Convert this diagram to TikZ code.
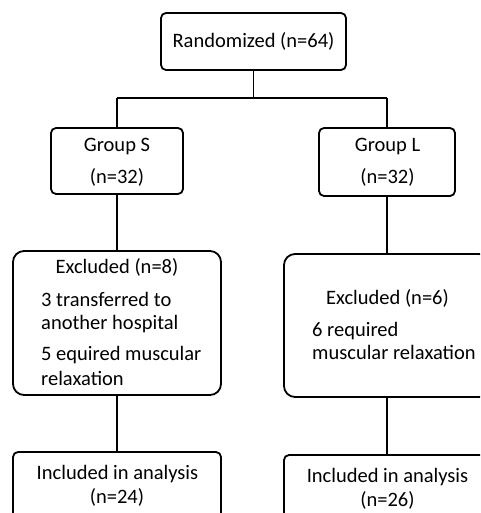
\documentclass[tikz,border=0pt]{standalone}
\usepackage{fontspec}
\setmainfont{Carlito}
\begin{document}
\begin{tikzpicture}[x=1pt,y=-1pt,
  box/.style={draw=black,line width=1.8pt,rounded corners=5pt,inner sep=0pt},
  bigbox/.style={draw=black,line width=1.8pt,rounded corners=11pt,inner sep=0pt},
  conn/.style={draw=black,line width=1.8pt},
  txt/.style={inner sep=0pt,font=\fontsize{20.5}{24}\selectfont},
  lefttxt/.style={txt,anchor=base west},
  ctxt/.style={txt,anchor=base}]
\useasboundingbox (0,0) rectangle (480,513);
\clip (0,0) rectangle (480,513);
% boxes
\node[box,minimum width=185pt,minimum height=57pt] (rand) at (253.5,41.5) {};
\node[box,minimum width=132pt,minimum height=66pt] (gs) at (117,161) {};
\node[box,minimum width=136pt,minimum height=68pt] (gl) at (387,162) {};
\node[bigbox,minimum width=208pt,minimum height=144pt] (es) at (117,323) {};
\node[bigbox,minimum width=206pt,minimum height=143pt] (el) at (387,325.5) {};
\node[box,minimum width=208pt,minimum height=80pt] (is) at (117,492) {};
\node[box,minimum width=206pt,minimum height=80pt] (il) at (387,495) {};
% connectors
\coordinate (j) at (253.5,98);
\coordinate (jl) at (117,98);
\coordinate (jr) at (387,98);
\draw[conn] (rand.south) -- (j);
\draw[conn] (jl) -- (jr);
\draw[conn] (jl) -- (gs.north);
\draw[conn] (jr) -- (gl.north);
\draw[conn] (gs.south) -- (es.north);
\draw[conn] (gl.south) -- (el.north);
\draw[conn] (es.south) -- (is.north);
\draw[conn] (el.south) -- (il.north);
% texts
\node[ctxt] (t1) at (253.5,48) {Randomized (n=64)};
\node[ctxt] (t2) at (117,152) {Group S};
\node[ctxt] (t3) at (117,183) {(n=32)};
\node[ctxt] (t4) at (387.5,152) {Group L};
\node[ctxt] (t5) at (387.5,183) {(n=32)};
\node[ctxt] (t6) at (117,273) {Excluded (n=8)};
\node[lefttxt] (t7) at (41,306) {3 transferred to};
\node[lefttxt] (t8) at (41,329) {another hospital};
\node[lefttxt] (t9) at (41,360) {5 equired muscular};
\node[lefttxt] (t10) at (41,385) {relaxation};
\node[ctxt] (t11) at (387.5,304) {Excluded (n=6)};
\node[lefttxt] (t12) at (312,336) {6 required};
\node[lefttxt] (t13) at (312,359) {muscular relaxation};
\node[ctxt] (t14) at (117.5,479) {Included in analysis};
\node[ctxt] (t15) at (117,503) {(n=24)};
\node[ctxt] (t16) at (387.5,482) {Included in analysis};
\node[ctxt] (t17) at (387.5,506) {(n=26)};
\end{tikzpicture}
\end{document}
